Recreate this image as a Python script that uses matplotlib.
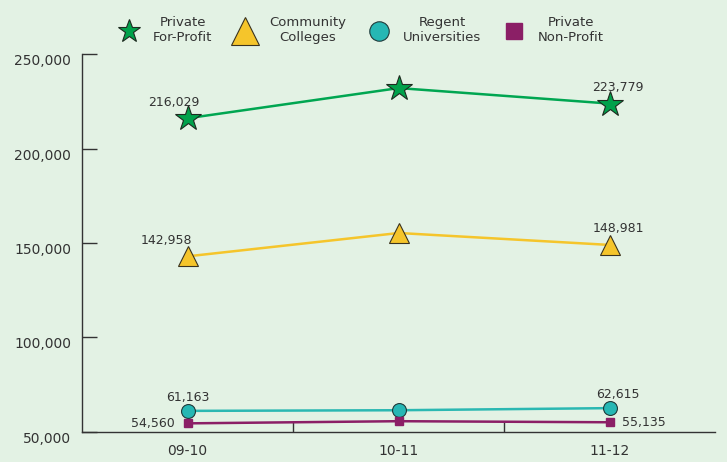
import numpy as np
import matplotlib
matplotlib.use('Agg')
import matplotlib.pyplot as plt


YEARS = ['09-10', '10-11', '11-12']
FOR_PROFIT = [216029, 232000, 223779]
COMMUNITY = [142958, 155300, 148981]
REGENT = [61163, 61500, 62615]
NON_PROFIT = [54560, 55700, 55135]

YTICKS = [50000, 100000, 150000, 200000, 250000]

BG = '#e3f2e4'
TXT = '#333333'

plt.rcParams['font.family'] = ['DejaVu Sans']

fig = plt.figure(figsize=(7.27, 4.62), dpi=100, facecolor=BG)
ax = fig.add_axes([0.113, 0.065, 0.871, 0.818], facecolor=BG)

x = np.arange(len(YEARS))

ax.plot(x, FOR_PROFIT, color='#00a651', lw=1.8, marker='*', ms=19,
        mfc='#00a14b', mec='#1d2a1f', mew=0.8, label='Private\nFor-Profit', zorder=3)
ax.plot(x, COMMUNITY, color='#f5c52b', lw=1.8, marker='^', ms=15,
        mfc='#f5c52b', mec='#3a3320', mew=0.8, label='Community\nColleges', zorder=3)
ax.plot(x, REGENT, color='#2bb8b2', lw=1.8, marker='o', ms=10,
        mfc='#26b7b4', mec='#1f3a3a', mew=0.8, label='Regent\nUniversities', zorder=3)
ax.plot(x, NON_PROFIT, color='#8b1f66', lw=1.8, marker='s', ms=6,
        mfc='#8b1f66', mec='#8b1f66', label='Private\nNon-Profit', zorder=3)

fs = 9
ax.annotate(f'{FOR_PROFIT[0]:,}', (x[0], FOR_PROFIT[0]), xytext=(-10, 7),
            textcoords='offset points', ha='center', va='bottom', fontsize=fs, color=TXT)
ax.annotate(f'{FOR_PROFIT[2]:,}', (x[2], FOR_PROFIT[2]), xytext=(6, 7),
            textcoords='offset points', ha='center', va='bottom', fontsize=fs, color=TXT)
ax.annotate(f'{COMMUNITY[0]:,}', (x[0], COMMUNITY[0]), xytext=(-15, 7),
            textcoords='offset points', ha='center', va='bottom', fontsize=fs, color=TXT)
ax.annotate(f'{COMMUNITY[2]:,}', (x[2], COMMUNITY[2]), xytext=(6, 7),
            textcoords='offset points', ha='center', va='bottom', fontsize=fs, color=TXT)
ax.annotate(f'{REGENT[0]:,}', (x[0], REGENT[0]), xytext=(0, 5),
            textcoords='offset points', ha='center', va='bottom', fontsize=fs, color=TXT)
ax.annotate(f'{REGENT[2]:,}', (x[2], REGENT[2]), xytext=(6, 5),
            textcoords='offset points', ha='center', va='bottom', fontsize=fs, color=TXT)
ax.annotate(f'{NON_PROFIT[0]:,}', (x[0], NON_PROFIT[0]), xytext=(-9, 0),
            textcoords='offset points', ha='right', va='center', fontsize=fs, color=TXT)
ax.annotate(f'{NON_PROFIT[2]:,}', (x[2], NON_PROFIT[2]), xytext=(9, 0),
            textcoords='offset points', ha='left', va='center', fontsize=fs, color=TXT)

ax.set_xlim(-0.5, 2.5)
ax.set_ylim(50000, 250000)
ax.set_xticks(x)
ax.set_xticklabels(YEARS)
ax.set_xticks([0.5, 1.5], minor=True)
ax.tick_params(axis='x', which='major', length=0, pad=9, labelsize=10, labelcolor=TXT)
ax.tick_params(axis='x', which='minor', direction='in', length=8, width=1, color='#333333')
ax.set_yticks(YTICKS)
ax.set_yticklabels([f'{v:,}' for v in YTICKS])
ax.tick_params(axis='y', direction='in', length=11, width=1, color='#333333',
               labelsize=10, labelcolor=TXT, pad=8)
for t in ax.get_yticklabels():
    t.set_va('top')
    t.set_y(0)

for s in ['top', 'right']:
    ax.spines[s].set_visible(False)
for s in ['left', 'bottom']:
    ax.spines[s].set_color('#333333')
    ax.spines[s].set_linewidth(1)

leg = fig.legend(loc='upper center', bbox_to_anchor=(0.497, 0.99), ncol=4, frameon=False,
                 handlelength=1.6, handletextpad=1.0, columnspacing=1.7,
                 labelcolor=TXT, prop={'size': 9.5})
for h, ms in zip(leg.legend_handles, [17, 20, 14, 11]):
    h.set_linestyle('None')
    h.set_markersize(ms)
for t in leg.get_texts():
    t.set_multialignment('center')
    t.set_linespacing(1.15)

fig.savefig('out.png', dpi=100, facecolor=BG)
